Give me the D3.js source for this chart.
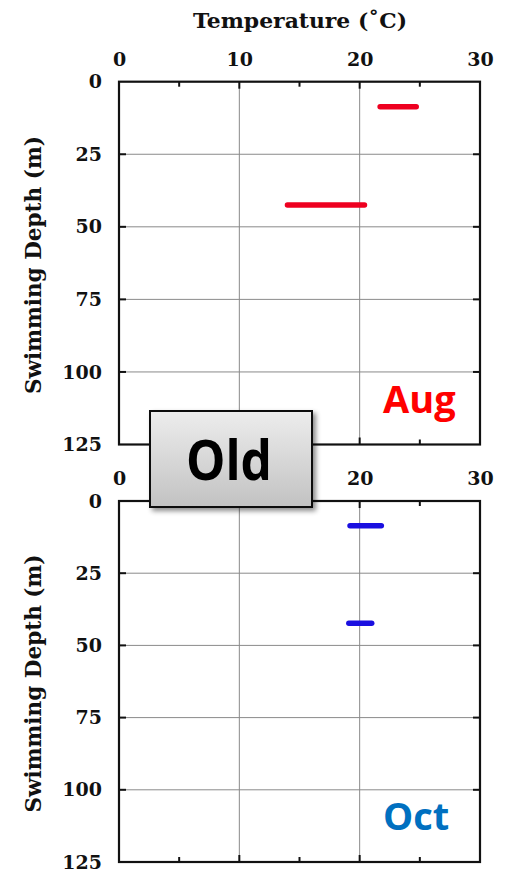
<!DOCTYPE html>
<html>
<head>
<meta charset="utf-8">
<script src="https://cdn.jsdelivr.net/npm/d3@7/dist/d3.min.js"></script>
<style>
  html, body { margin: 0; padding: 0; background: #fff; }
  svg { display: block; }
</style>
</head>
<body>
<svg id="chart" width="510" height="872"></svg>
<script>
// Temperature axis ticks (°C) and depth axis ticks (m)
const tempTicks = [0, 10, 20, 30];
const tempTicksLower = [0, 20, 30]; // the 10 label sits beneath the badge
const tempMinorTicks = [5, 15, 25];
const depthTicks = [0, 25, 50, 75, 100, 125];

// August swimming tracks: depth (m) and temperature range (°C)
const augDepth = [8.6, 42.5];
const augTempMin = [21.7, 14.0];
const augTempMax = [24.7, 20.4];

// October swimming tracks
const octDepth = [8.6, 42.3];
const octTempMin = [19.2, 19.1];
const octTempMax = [21.8, 21.0];

const svg = d3.select("#chart");
const serif = "'DejaVu Serif', serif";
const sans = "'Open Sans', 'Noto Sans', sans-serif";

const x = d3.scaleLinear().domain([0, 30]).range([119, 480]);

// shadow + gradient for the "Old" badge
const defs = svg.append("defs");
const grad = defs.append("linearGradient").attr("id", "badgeGrad")
  .attr("x1", 0).attr("y1", 0).attr("x2", 0).attr("y2", 1);
grad.append("stop").attr("offset", "0%").attr("stop-color", "#ededed");
grad.append("stop").attr("offset", "100%").attr("stop-color", "#c2c2c2");
const sh = defs.append("filter").attr("id", "badgeShadow")
  .attr("x", "-20%").attr("y", "-20%").attr("width", "150%").attr("height", "150%");
sh.append("feDropShadow").attr("dx", 3).attr("dy", 3).attr("stdDeviation", 2.5)
  .attr("flood-color", "#000").attr("flood-opacity", 0.45);

function panel(top, bottom, labels, depths, tMin, tMax, lineColor, month, monthColor, showTitle) {
  const y = d3.scaleLinear().domain([0, 125]).range([top, bottom]);
  const g = svg.append("g");

  // grid lines
  g.selectAll(".vgrid").data([10, 20]).join("line")
    .attr("x1", d => x(d)).attr("x2", d => x(d))
    .attr("y1", top).attr("y2", bottom)
    .attr("stroke", "#8a8a8a").attr("stroke-width", 1);
  g.selectAll(".hgrid").data([25, 50, 75, 100]).join("line")
    .attr("x1", x(0)).attr("x2", x(30))
    .attr("y1", d => y(d)).attr("y2", d => y(d))
    .attr("stroke", "#8a8a8a").attr("stroke-width", 1);

  // top axis labels
  const topAxis = d3.axisTop(x).tickValues(labels).tickSize(0).tickPadding(0);
  const ta = g.append("g").attr("transform", `translate(0,${top - 16})`).call(topAxis);
  ta.select(".domain").remove();
  ta.selectAll("text").attr("font-family", serif).attr("font-weight", "bold")
    .attr("font-size", 19).attr("fill", "#111");

  // left axis labels
  const leftAxis = d3.axisLeft(y).tickValues(depthTicks).tickSize(0).tickPadding(0);
  const la = g.append("g").attr("transform", `translate(102,0)`).call(leftAxis);
  la.select(".domain").remove();
  la.selectAll("text").attr("font-family", serif).attr("font-weight", "bold")
    .attr("font-size", 19).attr("fill", "#111");

  // inward ticks on all four edges
  const tk = g.append("g").attr("stroke", "#111").attr("stroke-width", 2);
  [10, 20].forEach(v => {
    tk.append("line").attr("x1", x(v)).attr("x2", x(v)).attr("y1", top).attr("y2", top + 7);
    tk.append("line").attr("x1", x(v)).attr("x2", x(v)).attr("y1", bottom).attr("y2", bottom - 7);
  });
  tempMinorTicks.forEach(v => {
    tk.append("line").attr("x1", x(v)).attr("x2", x(v)).attr("y1", top).attr("y2", top + 5);
    tk.append("line").attr("x1", x(v)).attr("x2", x(v)).attr("y1", bottom).attr("y2", bottom - 5);
  });
  [25, 50, 75, 100].forEach(v => {
    tk.append("line").attr("x1", x(0)).attr("x2", x(0) + 7).attr("y1", y(v)).attr("y2", y(v));
    tk.append("line").attr("x1", x(30)).attr("x2", x(30) - 7).attr("y1", y(v)).attr("y2", y(v));
  });

  // frame
  g.append("rect").attr("x", x(0)).attr("y", top)
    .attr("width", x(30) - x(0)).attr("height", bottom - top)
    .attr("fill", "none").attr("stroke", "#111").attr("stroke-width", 2.2);

  // swimming tracks
  g.selectAll(".track").data(depths).join("line")
    .attr("x1", (d, i) => x(tMin[i])).attr("x2", (d, i) => x(tMax[i]))
    .attr("y1", d => y(d)).attr("y2", d => y(d))
    .attr("stroke", lineColor).attr("stroke-width", 5.5).attr("stroke-linecap", "round");

  // y-axis title
  g.append("text")
    .attr("transform", `translate(41,${(top + bottom) / 2 + 2}) rotate(-90)`)
    .attr("text-anchor", "middle")
    .attr("font-family", serif).attr("font-weight", "bold").attr("font-size", 22)
    .attr("textLength", 258).attr("lengthAdjust", "spacingAndGlyphs")
    .attr("fill", "#111")
    .text("Swimming Depth (m)");

  // month label
  g.append("text").attr("x", 383).attr("y", bottom - 32)
    .attr("font-family", sans).attr("font-weight", "bold").attr("font-size", 38)
    .attr("fill", monthColor)
    .text(month);

  if (showTitle) {
    svg.append("text").attr("x", 300).attr("y", 28).attr("text-anchor", "middle")
      .attr("font-family", serif).attr("font-weight", "bold").attr("font-size", 21)
      .attr("textLength", 214).attr("lengthAdjust", "spacingAndGlyphs")
      .attr("fill", "#111")
      .text("Temperature (˚C)");
  }
}

panel(81.7, 444.5, tempTicks, augDepth, augTempMin, augTempMax, "#ee0020", "Aug", "#ff0000", true);
panel(501, 862, tempTicksLower, octDepth, octTempMin, octTempMax, "#1a0fe0", "Oct", "#0070c0", false);

// "Old" badge
const badge = svg.append("g");
badge.append("rect").attr("x", 150).attr("y", 411).attr("width", 162).attr("height", 96)
  .attr("fill", "url(#badgeGrad)").attr("stroke", "#111").attr("stroke-width", 2)
  .attr("filter", "url(#badgeShadow)");
badge.append("text").attr("x", 229).attr("y", 480).attr("text-anchor", "middle")
  .attr("font-family", sans).attr("font-weight", "bold").attr("font-size", 56)
  .attr("textLength", 86).attr("lengthAdjust", "spacingAndGlyphs")
  .attr("fill", "#000").text("Old");
</script>
</body>
</html>
